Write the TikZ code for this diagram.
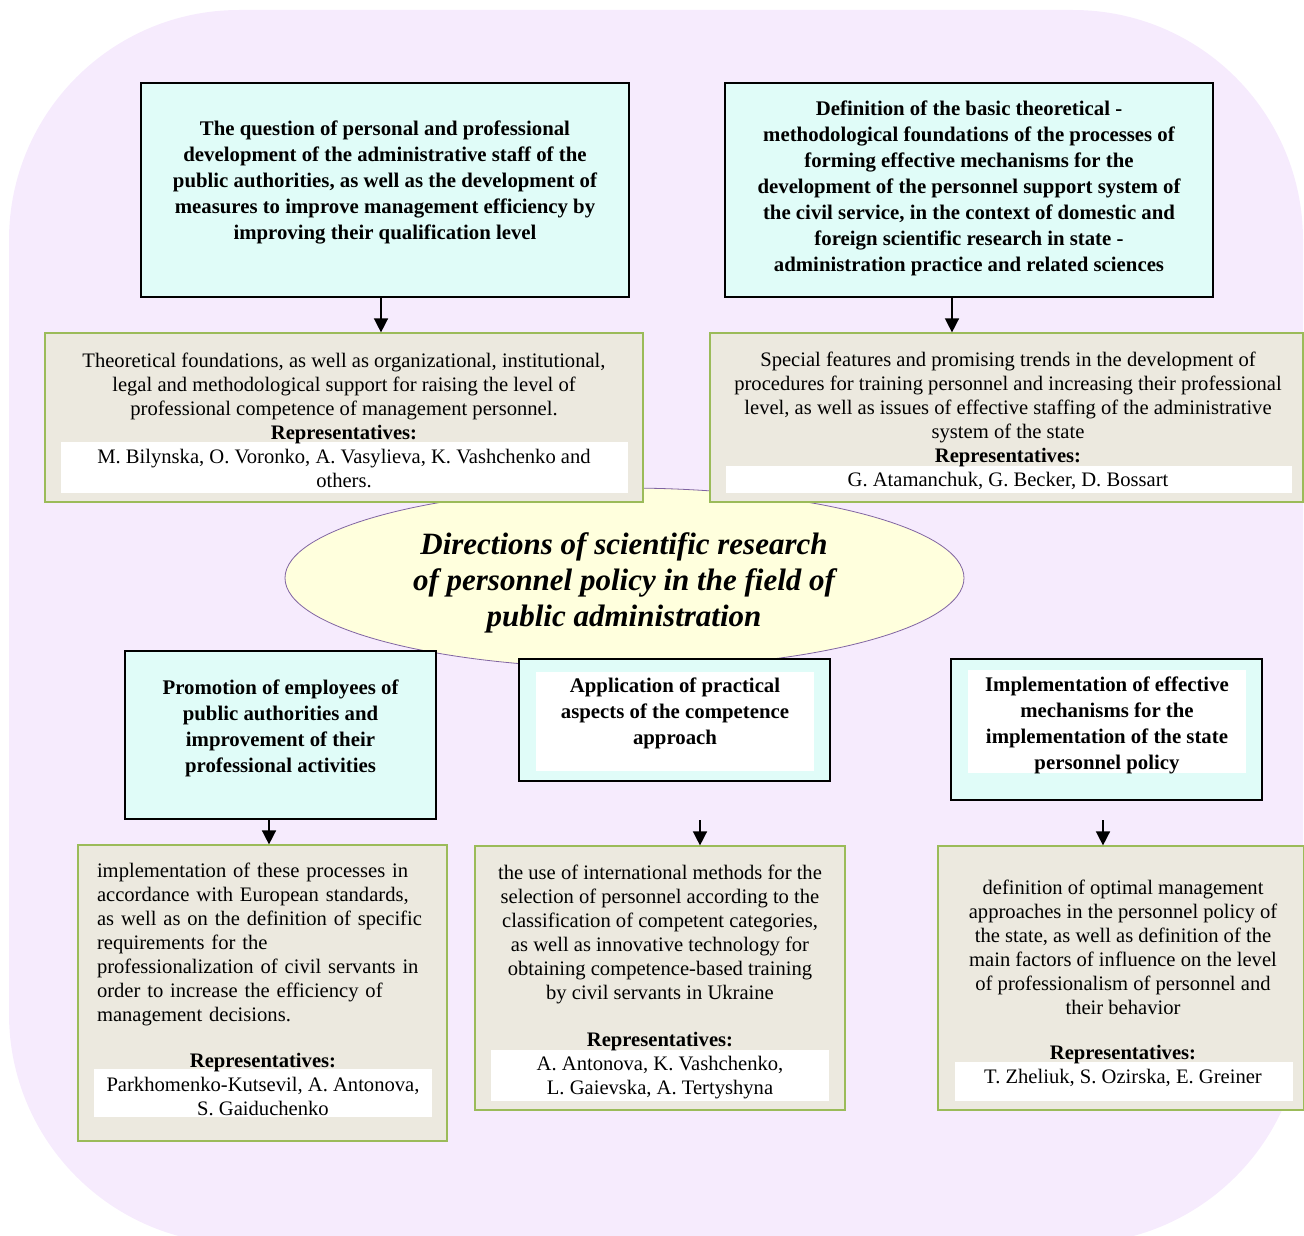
\documentclass[tikz,border=0pt]{standalone}
\usepackage{fontspec}
\setmainfont{Liberation Serif}
\usetikzlibrary{arrows.meta,shapes.geometric}
\definecolor{bgpurple}{HTML}{F6EBFD}
\definecolor{cyanfill}{HTML}{E0FCF8}
\definecolor{beige}{HTML}{ECE9DF}
\definecolor{greenline}{HTML}{9BBB59}
\definecolor{ellfill}{HTML}{FFFFDD}
\definecolor{ellline}{HTML}{8064A2}
\begin{document}
\begin{tikzpicture}[x=1pt,y=-1pt,
  cyanbox/.style={draw=black,line width=2.6pt,fill=cyanfill,rectangle,inner sep=0pt},
  beigebox/.style={draw=greenline,line width=1.2pt,fill=beige,rectangle,inner sep=0pt},
  whitebox/.style={fill=white,draw=none,rectangle,inner sep=0pt},
  titletext/.style={font=\fontsize{20.8}{26}\selectfont\bfseries,align=center,inner sep=0pt},
  bodytext/.style={font=\fontsize{20.6}{24}\selectfont,align=center,inner sep=0pt},
  arr/.style={line width=1.5pt,-{Triangle[width=14pt,length=14pt]}}
]
\useasboundingbox (0,0) rectangle (1304,1236);
\begin{scope}
\clip (0,0) rectangle (1304,1236);
\fill[bgpurple,rounded corners=230pt] (9,10) rectangle (1303,1244);
\end{scope}

% central ellipse
\node[ellipse,draw=ellline,line width=0.8pt,fill=ellfill,minimum width=679,minimum height=180,inner sep=0pt] (E0) at (624.5,578) {};
\node[font=\fontsize{31}{36}\selectfont\bfseries\itshape,align=center,inner sep=0pt] (E0t) at (624,583)
 {Directions of scientific research\\of personnel policy in the field of\\public administration};

% top-left
\node[cyanbox,minimum width=488,minimum height=214] (A) at (385,190) {};
\node[titletext] (At) at (385,182) {The question of personal and professional\\development of the administrative staff of the\\public authorities, as well as the development of\\measures to improve management efficiency by\\improving their qualification level};

% top-right
\node[cyanbox,minimum width=488,minimum height=214] (B) at (969,190) {};
\node[titletext] (Bt) at (969,188) {Definition of the basic theoretical -\\methodological foundations of the processes of\\forming effective mechanisms for the\\development of the personnel support system of\\the civil service, in the context of domestic and\\foreign scientific research in state -\\administration practice and related sciences};

% beige C
\node[beigebox,minimum width=598,minimum height=169] (C) at (344,417.5) {};
\node[whitebox,minimum width=567,minimum height=51] (Cw) at (344.5,467.5) {};
\node[bodytext] (Ct) at (344,420.5) {Theoretical foundations, as well as organizational, institutional,\\legal and methodological support for raising the level of\\professional competence of management personnel.\\\textbf{Representatives:}\\M. Bilynska, O. Voronko, A. Vasylieva, K. Vashchenko and\\others.};

% beige D
\node[beigebox,minimum width=593,minimum height=169] (D) at (1006.5,417.5) {};
\node[whitebox,minimum width=566,minimum height=27] (Dw) at (1009,479.5) {};
\node[bodytext] (Dt) at (1008,420.5) {Special features and promising trends in the development of\\procedures for training personnel and increasing their professional\\level, as well as issues of effective staffing of the administrative\\system of the state\\\textbf{Representatives:}\\G. Atamanchuk, G. Becker, D. Bossart};

\draw[arr] (381,0 |- A.south) -- (381,0 |- C.north);
\draw[arr] (952,0 |- B.south) -- (952,0 |- D.north);

% bottom cyan boxes
\node[cyanbox,minimum width=311,minimum height=168] (F1) at (280.5,735) {};
\node[titletext] (F1t) at (280.5,728) {Promotion of employees of\\public authorities and\\improvement of their\\professional activities};

\node[cyanbox,minimum width=311,minimum height=122] (F2) at (674.5,720) {};
\node[whitebox,minimum width=278,minimum height=99] (F2w) at (675,721.5) {};
\node[titletext] (F2t) at (675,713) {Application of practical\\aspects of the competence\\approach};

\node[cyanbox,minimum width=311,minimum height=141] (F3) at (1106.5,729.5) {};
\node[whitebox,minimum width=278,minimum height=103] (F3w) at (1107,721.5) {};
\node[titletext] (F3t) at (1107,725) {Implementation of effective\\mechanisms for the\\implementation of the state\\personnel policy};

% bottom beige boxes
\node[beigebox,minimum width=369,minimum height=296] (H) at (262.5,993) {};
\node[whitebox,minimum width=338,minimum height=48] (Hw) at (263,1093) {};
\node[bodytext,align=left,text width=330] (Ht) at (262,944) {implementation of these processes in\\accordance with European standards,\\as well as on the definition of specific\\requirements for the\\professionalization of civil servants in\\order to increase the efficiency of\\management decisions.};
\node[bodytext] (Hr) at (263,1084) {\textbf{Representatives:}\\Parkhomenko-Kutsevil, A. Antonova,\\S. Gaiduchenko};

\node[beigebox,minimum width=370,minimum height=264] (I) at (660,978) {};
\node[whitebox,minimum width=338,minimum height=51] (Iw) at (660,1075.5) {};
\node[bodytext] (It) at (660,934) {the use of international methods for the\\selection of personnel according to the\\classification of competent categories,\\as well as innovative technology for\\obtaining competence-based training\\by civil servants in Ukraine};
\node[bodytext] (Ir) at (660,1066) {\textbf{Representatives:}\\A. Antonova, K. Vashchenko,\\L. Gaievska, A. Tertyshyna};

\node[beigebox,minimum width=366,minimum height=264] (J) at (1121,978) {};
\node[whitebox,minimum width=338,minimum height=39] (Jw) at (1124,1081.5) {};
\node[bodytext] (Jt) at (1123,947) {definition of optimal management\\approaches in the personnel policy of\\the state, as well as definition of the\\main factors of influence on the level\\of professionalism of personnel and\\their behavior};
\node[bodytext] (Jr) at (1123,1066) {\textbf{Representatives:}\\T. Zheliuk, S. Ozirska, E. Greiner};

\coordinate (F2a) at (700,820);
\coordinate (F3a) at (1103,820);
\draw[arr] (269,0 |- F1.south) -- (269,0 |- H.north);
\draw[arr] (F2a) -- (F2a |- I.north);
\draw[arr] (F3a) -- (F3a |- J.north);
\end{tikzpicture}
\end{document}
